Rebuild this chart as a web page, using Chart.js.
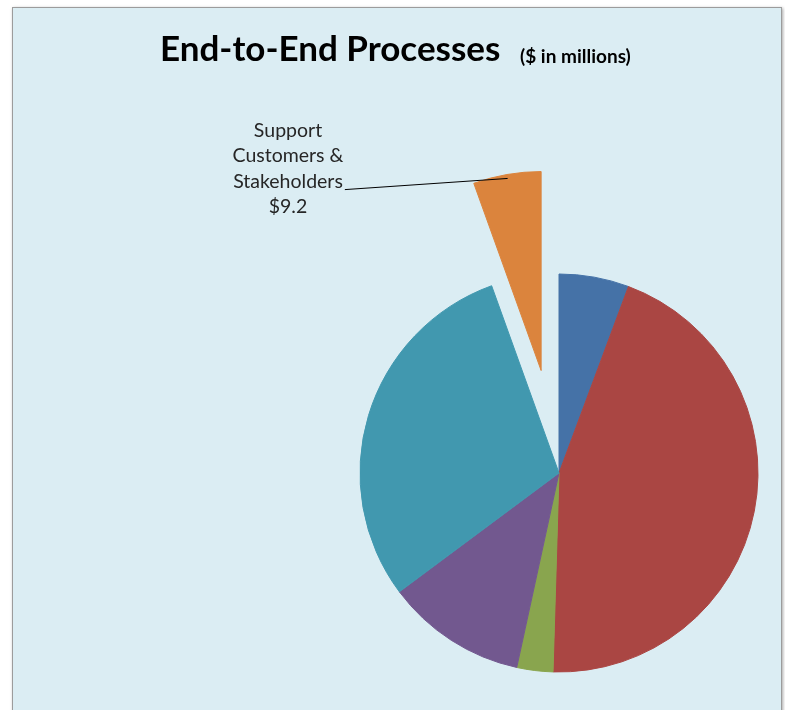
<!DOCTYPE html>
<html>
<head>
<meta charset="utf-8">
<script src="https://cdn.jsdelivr.net/npm/chart.js@4.4.1/dist/chart.umd.min.js"></script>
<style>
  html, body { margin: 0; padding: 0; background: #ffffff; overflow: hidden; }
  #frame {
    position: absolute; left: 12px; top: 7px; width: 768px; height: 730px;
    background: #dbedf3; border: 1px solid #9c9c9c;
    box-shadow: 1px 1px 3px rgba(0, 0, 0, 0.35);
  }
  #chart { position: absolute; left: 0; top: 0; }
</style>
</head>
<body>
<div id="frame"></div>
<canvas id="chart" width="785" height="710"></canvas>
<script>
// only the orange slice is named in the picture
const categories = ['Process 1', 'Process 2', 'Process 3', 'Process 4', 'Process 5', 'Support Customers & Stakeholders'];
const values = [9.5, 75.0, 4.9, 19.1, 49.7, 9.2];
const sliceColors = ['#4572a7', '#aa4643', '#89a54e', '#72588f', '#4198af', '#db843d'];
const explode = [0, 0, 0, 0, 0, 104];
const calloutLines = ['Support', 'Customers &', 'Stakeholders'];

const titleText = 'End-to-End Processes';
const subtitleText = '($ in millions)';

// pull exploded slices out along their middle angle
const explodePlugin = {
  id: 'explode',
  afterDatasetsUpdate(chart) {
    const meta = chart.getDatasetMeta(0);
    meta.data.forEach((arc, i) => {
      const d = explode[i];
      if (!d) return;
      const mid = (arc.startAngle + arc.endAngle) / 2;
      arc.x += Math.cos(mid) * d;
      arc.y += Math.sin(mid) * d;
    });
  }
};

const textPlugin = {
  id: 'texts',
  afterDraw(chart) {
    const ctx = chart.ctx;
    ctx.save();
    ctx.fillStyle = '#000000';
    ctx.textBaseline = 'alphabetic';

    // title
    ctx.textAlign = 'left';
    ctx.font = 'bold 35px Lato';
    ctx.fillText(titleText, 160, 61);
    ctx.font = 'bold 19px Lato';
    ctx.fillText(subtitleText, 520, 63);

    // callout for the orange slice
    const idx = 5;
    const arc = chart.getDatasetMeta(0).data[idx];
    const lines = calloutLines.concat(['$' + values[idx].toFixed(1)]);
    ctx.font = '19.5px Lato';
    ctx.fillStyle = '#262626';
    ctx.textAlign = 'center';
    const cx = 288;
    lines.forEach((t, i) => ctx.fillText(t, cx, 137 + i * 25.3));

    const w = ctx.measureText(calloutLines[2]).width;
    const mid = (arc.startAngle + arc.endAngle) / 2;
    const r = arc.outerRadius - 4;
    ctx.beginPath();
    ctx.moveTo(cx + w / 2 + 2, 137 + 2 * 25.3 + 2);
    ctx.lineTo(arc.x + Math.cos(mid) * r, arc.y + Math.sin(mid) * r);
    ctx.strokeStyle = '#000000';
    ctx.lineWidth = 1;
    ctx.stroke();
    ctx.restore();
  }
};

new Chart(document.getElementById('chart'), {
  type: 'pie',
  data: {
    labels: categories,
    datasets: [{
      data: values,
      backgroundColor: sliceColors,
      borderColor: sliceColors,
      borderWidth: 1,
      radius: 199,
      clip: false
    }]
  },
  options: {
    responsive: false,
    animation: false,
    events: [],
    layout: {
      padding: { left: 339, right: 6, top: 253, bottom: 17 }
    },
    plugins: {
      legend: { display: false },
      tooltip: { enabled: false },
      title: { display: false }
    }
  },
  plugins: [explodePlugin, textPlugin]
});
</script>
</body>
</html>
